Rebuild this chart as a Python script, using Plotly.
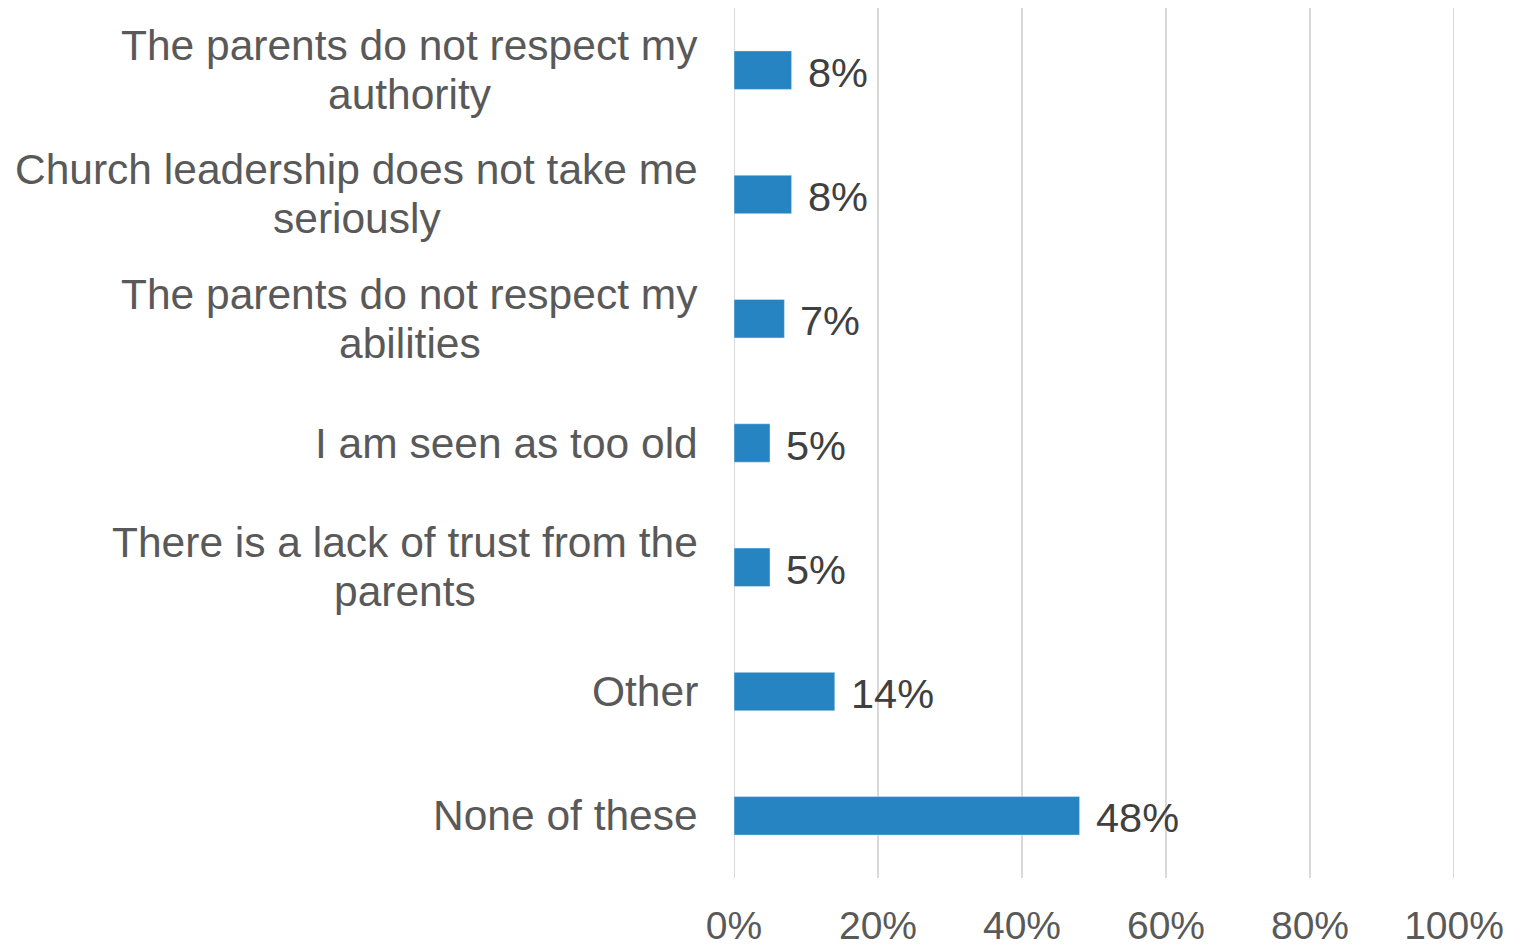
import plotly.graph_objects as go

categories = [
    "The parents do not respect my<br>authority",
    "Church leadership does not take me<br>seriously",
    "The parents do not respect my<br>abilities",
    "I am seen as too old",
    "There is a lack of trust from the<br>parents",
    "Other",
    "None of these",
]
values = [8, 8, 7, 5, 5, 14, 48]
value_labels = ["8%", "8%", "7%", "5%", "5%", "14%", "48%"]
x_ticks = [0, 20, 40, 60, 80, 100]
x_tick_labels = ["0%", "20%", "40%", "60%", "80%", "100%"]

fig = go.Figure()
fig.add_trace(go.Bar(
    x=values,
    y=categories,
    orientation="h",
    marker=dict(color="#2584C1"),
    hoverinfo="skip",
))


def text_width(s, size):
    # Arial/Liberation Sans advance widths (units per 1000)
    w = {' ': 278, 'a': 556, 'b': 556, 'c': 500, 'd': 556, 'e': 556, 'f': 278, 'g': 556, 'h': 556,
         'i': 222, 'j': 222, 'k': 500, 'l': 222, 'm': 833, 'n': 556, 'o': 556, 'p': 556, 'q': 556,
         'r': 333, 's': 500, 't': 278, 'u': 556, 'v': 500, 'w': 722, 'x': 500, 'y': 500, 'z': 500,
         'T': 611, 'C': 722, 'I': 278, 'O': 778, 'N': 722}
    return sum(w.get(ch, 556) for ch in s) * size / 1000.0


LINE_GAP = 49
CAT_SIZE = 42.5
annotations = []
for c in categories:
    lines = c.split("<br>")
    n = len(lines)
    block_w = max(text_width(l, CAT_SIZE) for l in lines)
    for i, ln in enumerate(lines):
        off = ((n - 1) / 2 - i) * LINE_GAP
        annotations.append(dict(
            x=0, xref="paper", y=c, yref="y",
            text=ln, showarrow=False, xanchor="center", yanchor="middle",
            xshift=-36 - block_w / 2, yshift=off,
            font=dict(family="Liberation Sans, Arial", size=CAT_SIZE, color="#595959"),
        ))

for c, v, lab in zip(categories, values, value_labels):
    annotations.append(dict(
        x=v, xref="x", y=c, yref="y",
        text=lab, showarrow=False, xanchor="left", yanchor="middle",
        xshift=14, yshift=-2,
        font=dict(family="Liberation Sans, Arial", size=41.5, color="#404040"),
    ))

fig.update_layout(
    width=1520, height=947,
    margin=dict(l=726, r=74, t=0, b=77),
    paper_bgcolor="white", plot_bgcolor="white",
    showlegend=False,
    bargap=0.69,
    annotations=annotations,
    xaxis=dict(
        range=[0, 100],
        tickvals=x_ticks, ticktext=x_tick_labels,
        showgrid=True, gridcolor="#D9D9D9", gridwidth=2,
        zeroline=False, showline=False,
        ticks="", ticklabelstandoff=21,
        tickfont=dict(family="Liberation Sans, Arial", size=39, color="#595959"),
    ),
    yaxis=dict(
        categoryorder="array", categoryarray=categories[::-1],
        showticklabels=False, showgrid=False, zeroline=False,
        showline=False, ticks="",
    ),
    shapes=[dict(type="line", xref="x", yref="paper", x0=xv, x1=xv, y0=0, y1=1,
                 line=dict(color="#D9D9D9", width=2), layer="below")
            for xv in (x_ticks[0], x_ticks[-1])],
)

fig.write_html("out.html")
